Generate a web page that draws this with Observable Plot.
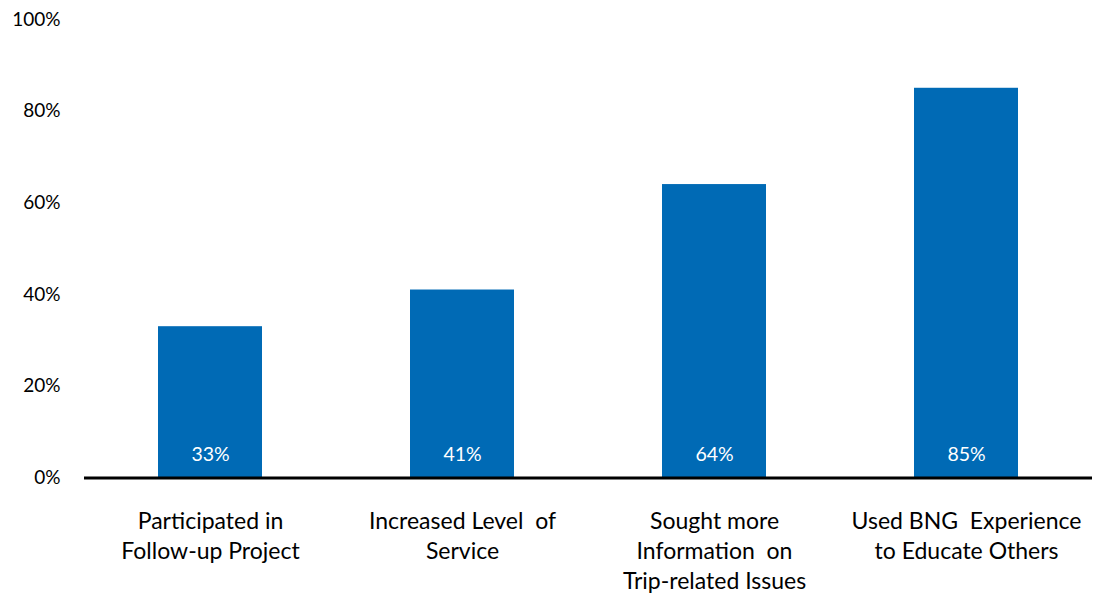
<!DOCTYPE html>
<html>
<head>
<meta charset="utf-8">
<script src="https://cdn.jsdelivr.net/npm/d3@7"></script>
<script src="https://cdn.jsdelivr.net/npm/@observablehq/plot@0.6"></script>
<style>
  html, body { margin: 0; padding: 0; background: #fff; }
  #chart svg { display: block; }
</style>
</head>
<body>
<div id="chart"></div>
<script>
const categories = [
  "Participated in\nFollow-up Project",
  "Increased Level  of\nService",
  "Sought more\nInformation  on\nTrip-related Issues",
  "Used BNG  Experience\nto Educate Others"
];
const values = [33, 41, 64, 85];
const yTicks = [0, 20, 40, 60, 80, 100];

const data = categories.map((c, i) => ({category: c, value: values[i]}));

const chart = Plot.plot({
  width: 1096,
  height: 599,
  marginTop: 19,
  marginBottom: 121.5,
  marginLeft: 84,
  marginRight: 4,
  style: {fontFamily: "Lato, 'Open Sans', sans-serif", color: "#000", background: "#fff"},
  x: {domain: categories, paddingInner: 0.587, paddingOuter: 0.2935, label: null},
  y: {domain: [0, 100], label: null},
  marks: [
    Plot.barY(data, {x: "category", y: "value", fill: "#006AB5"}),
    Plot.text(data, {x: "category", y: 0, dy: -23, text: d => d.value + "%", fill: "#fff", fontSize: 19.5, lineAnchor: "middle"}),
    Plot.ruleY([0], {stroke: "#000", strokeWidth: 3}),
    Plot.axisY({ticks: yTicks, tickSize: 0, tickPadding: 24, tickFormat: d => d + "%", fontSize: 19, label: null}),
    Plot.axisX({tickSize: 0, tickPadding: 30, fontSize: 23, lineHeight: 1.3, label: null})
  ]
});
document.getElementById("chart").appendChild(chart);
</script>
</body>
</html>
